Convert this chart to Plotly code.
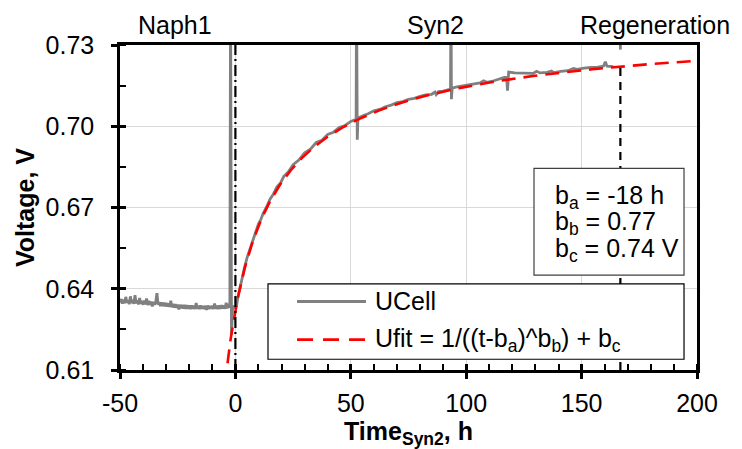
import numpy as np
import plotly.graph_objects as go

# ---- measured cell voltage before Syn2 start (0.5 h logging) ----
t_pre = [
    -50.0, -49.5, -49.0, -48.5, -48.0, -47.5, -47.0, -46.5, -46.0, -45.5,
    -45.0, -44.5, -44.0, -43.5, -43.0, -42.5, -42.0, -41.5, -41.0, -40.5,
    -40.0, -39.5, -39.0, -38.5, -38.0, -37.5, -37.0, -36.5, -36.0, -35.5,
    -35.0, -34.5, -34.0, -33.5, -33.0, -32.5, -32.0, -31.5, -31.0, -30.5,
    -30.0, -29.5, -29.0, -28.5, -28.0, -27.5, -27.0, -26.5, -26.0, -25.5,
    -25.0, -24.5, -24.0, -23.5, -23.0, -22.5, -22.0, -21.5, -21.0, -20.5,
    -20.0, -19.5, -19.0, -18.5, -18.0, -17.5, -17.0, -16.5, -16.0, -15.5,
    -15.0, -14.5, -14.0, -13.5, -13.0, -12.5, -12.0, -11.5, -11.0, -10.5,
    -10.0, -9.5, -9.0, -8.5, -8.0, -7.5, -7.0, -6.5, -6.0, -5.5,
    -5.0, -4.5, -4.0, -3.5, -3.0,
]
u_pre = [
    0.6349, 0.6362, 0.6345, 0.6360, 0.6346, 0.6370, 0.6348, 0.6358, 0.6343, 0.6372,
    0.6347, 0.6359, 0.6344, 0.6376, 0.6346, 0.6357, 0.6342, 0.6366, 0.6345, 0.6355,
    0.6341, 0.6356, 0.6343, 0.6364, 0.6340, 0.6355, 0.6341, 0.6353, 0.6335, 0.6352,
    0.6341, 0.6350, 0.6384, 0.6341, 0.6351, 0.6336, 0.6350, 0.6336, 0.6349, 0.6335,
    0.6348, 0.6334, 0.6346, 0.6333, 0.6356, 0.6332, 0.6344, 0.6331, 0.6343, 0.6330,
    0.6342, 0.6324, 0.6341, 0.6328, 0.6340, 0.6327, 0.6340, 0.6326, 0.6339, 0.6326,
    0.6338, 0.6325, 0.6338, 0.6326, 0.6337, 0.6325, 0.6347, 0.6326, 0.6337, 0.6325,
    0.6338, 0.6326, 0.6336, 0.6325, 0.6337, 0.6322, 0.6338, 0.6325, 0.6336, 0.6326,
    0.6337, 0.6325, 0.6345, 0.6326, 0.6337, 0.6325, 0.6338, 0.6326, 0.6339, 0.6327,
    0.6338, 0.6326, 0.6348, 0.6328, 0.6337,
]

# ---- measured cell voltage from Syn2 start onward ----
t_post = [
    -2.4, -2.1, -1.7, -1.2, -0.5, 0.0, 0.5, 1.0, 1.5, 2.0, 3.0, 4.0, 5.0, 6.0,
    7.0, 8.0, 9.0, 10.0, 11.0, 12.0, 13.5, 15.0, 16.5, 18.0, 19.5, 21.0, 23.0,
    25.0, 27.5, 30.0, 32.5, 35.0, 37.5, 40.0, 42.5, 45.0, 47.5, 50.0, 52.3, 52.5,
    52.8, 53.1, 55.0, 57.5, 60.0, 62.5, 65.0, 67.5, 70.0, 72.5, 75.0, 77.5, 80.0,
    82.5, 85.0, 86.5, 87.0, 88.0, 90.0, 93.2, 93.4, 93.6, 93.9, 96.0, 98.0, 100.0,
    103.0, 106.0, 107.5, 109.0, 112.0, 115.0, 117.5, 117.9, 118.4, 121.0, 124.0,
    127.0, 129.0, 130.5, 132.0, 135.0, 137.0, 138.0, 141.0, 144.0, 146.5, 148.0,
    151.0, 154.0, 157.0, 159.5, 160.3, 161.0, 163.8, None, 166.8, 166.8,
]
u_post = [
    0.6331, 0.7500, 0.6230, 0.6336, 0.6331, 0.6334, 0.6336, 0.6366, 0.6386, 0.6407,
    0.6446, 0.6480, 0.6513, 0.6540, 0.6566, 0.6592, 0.6614, 0.6640, 0.6655, 0.6678,
    0.6702, 0.6731, 0.6750, 0.6776, 0.6790, 0.6815, 0.6832, 0.6858, 0.6875, 0.6902,
    0.6915, 0.6940, 0.6948, 0.6970, 0.6978, 0.6995, 0.7003, 0.7018, 0.7026, 0.7500,
    0.6950, 0.7030, 0.7038, 0.7046, 0.7057, 0.7062, 0.7072, 0.7078, 0.7087, 0.7091,
    0.7099, 0.7103, 0.7110, 0.7116, 0.7118, 0.7126, 0.7117, 0.7128, 0.7130, 0.7137,
    0.7500, 0.7100, 0.7141, 0.7145, 0.7148, 0.7150, 0.7154, 0.7160, 0.7168, 0.7162,
    0.7168, 0.7176, 0.7183, 0.7131, 0.7200, 0.7197, 0.7196, 0.7197, 0.7195, 0.7203,
    0.7197, 0.7199, 0.7204, 0.7198, 0.7203, 0.7205, 0.7213, 0.7210, 0.7215, 0.7217,
    0.7218, 0.7222, 0.7238, 0.7222, 0.7220, None, 0.7283, 0.7400,
]

# ---- fit parameters ----
B_A = -18.0   # h
B_B = 0.77
B_C = 0.74    # V

# ---- event markers ----
T_SYN2 = 0.0
T_REGEN = 166.8
U_REGEN_TOP = 0.7227

x_ticks = [-50, 0, 50, 100, 150, 200]
x_ticktext = ["-50", "0", "50", "100", "150", "200"]
y_ticks = [0.61, 0.64, 0.67, 0.70, 0.73]
y_ticktext = ["0.61", "0.64", "0.67", "0.70", "0.73"]

top_labels = ["Naph1", "Syn2", "Regeneration"]
top_label_x = [-26, 86.7, 182]

FONT = "Arial, Liberation Sans, sans-serif"
FS = 25

t_cell = t_pre + t_post
u_cell = u_pre + u_post

t_fit = np.linspace(-4.6, 200, 600)
u_fit = B_C - 1.0 / (t_fit - B_A) ** B_B

fig = go.Figure()

fig.add_trace(go.Scatter(
    x=t_cell, y=u_cell, mode="lines", name="UCell",
    line=dict(color="#808080", width=2.8), showlegend=False,
))
fig.add_trace(go.Scatter(
    x=t_fit, y=u_fit, mode="lines", name="Ufit",
    line=dict(color="#ff0000", width=2.6, dash="14px,8px"), showlegend=False,
))
# Syn2 start (dash-dot) and regeneration (dashed) markers
fig.add_trace(go.Scatter(
    x=[T_SYN2, T_SYN2], y=[0.61, 0.73], mode="lines", showlegend=False,
    line=dict(color="black", width=2.2, dash="11px,4px,2px,4px"),
))
fig.add_trace(go.Scatter(
    x=[T_REGEN, T_REGEN], y=[0.61, U_REGEN_TOP], mode="lines", showlegend=False,
    line=dict(color="black", width=2.2, dash="8px,6px"),
))
# empty trace on the overlay axes so their inner tick marks render
fig.add_trace(go.Scatter(x=[None], y=[None], xaxis="x2", yaxis="y2",
                         showlegend=False, hoverinfo="skip"))

axis_common = dict(
    showline=True, linecolor="black", linewidth=2.5, mirror=True,
    showgrid=True, gridcolor="#d9d9d9", gridwidth=1, zeroline=False,
    ticks="outside", ticklen=6, tickwidth=2.5, tickcolor="black",
    tickfont=dict(family=FONT, size=FS, color="black"),
)

fig.update_layout(
    width=742, height=449,
    margin=dict(l=120, r=45, t=45, b=72),
    paper_bgcolor="white", plot_bgcolor="white",
    font=dict(family=FONT, size=FS, color="black"),
    xaxis=dict(
        **axis_common, range=[-50, 200], tickvals=x_ticks, ticktext=x_ticktext,
        minor=dict(ticks="inside", dtick=10, ticklen=6, tickwidth=2, tickcolor="black", showgrid=False),
        title=dict(text="<b>Time<sub>Syn2</sub>, h</b>", font=dict(family=FONT, size=FS), standoff=3),
        ticklabelstandoff=3,
    ),
    yaxis=dict(
        **axis_common, range=[0.61, 0.73], tickvals=y_ticks, ticktext=y_ticktext,
        minor=dict(ticks="inside", dtick=0.015, tick0=0.61, ticklen=6, tickwidth=2, tickcolor="black", showgrid=False),
        title=dict(text="<b>Voltage, V</b>", font=dict(family=FONT, size=FS), standoff=4),
        ticklabelstandoff=12,
    ),
    xaxis2=dict(overlaying="x", anchor="y", range=[-50, 200], tickvals=x_ticks,
                ticks="inside", ticklen=6, tickwidth=2.5, tickcolor="black",
                showticklabels=False, showgrid=False, showline=False, zeroline=False),
    yaxis2=dict(overlaying="y", anchor="x", range=[0.61, 0.73], tickvals=y_ticks,
                ticks="inside", ticklen=6, tickwidth=2.5, tickcolor="black",
                showticklabels=False, showgrid=False, showline=False, zeroline=False),
)

# event labels above the plot
for txt, xv in zip(top_labels, top_label_x):
    fig.add_annotation(x=xv, xref="x", y=1.0, yref="paper", yanchor="bottom",
                       yshift=4, text=txt, showarrow=False,
                       font=dict(family=FONT, size=FS, color="black"))

# fit-parameter box
fig.add_shape(type="rect", xref="paper", yref="paper", x0=0.7175, x1=0.9775,
              y0=0.292, y1=0.6205, line=dict(color="#404040", width=1.2),
              fillcolor="white", layer="above")
params = [f"b<sub>a</sub> = {B_A:.0f} h", f"b<sub>b</sub> = {B_B:.2f}", f"b<sub>c</sub> = {B_C:.2f} V"]
for txt, yv in zip(params, [0.533, 0.452, 0.370]):
    fig.add_annotation(x=0.7504, xref="paper", y=yv, yref="paper", xanchor="left",
                       yanchor="middle", text=txt, showarrow=False,
                       font=dict(family=FONT, size=FS, color="black"))

# legend box
fig.add_shape(type="rect", xref="paper", yref="paper", x0=0.2565, x1=0.9775,
              y0=0.0331, y1=0.265, line=dict(color="black", width=1.2),
              fillcolor="white", layer="above")
fig.add_shape(type="line", xref="paper", yref="paper", x0=0.3068, x1=0.4263,
              y0=0.2108, y1=0.2108, line=dict(color="#808080", width=2.8), layer="above")
fig.add_shape(type="line", xref="paper", yref="paper", x0=0.3068, x1=0.4263,
              y0=0.0934, y1=0.0934, line=dict(color="#ff0000", width=2.6, dash="16px,10px"),
              layer="above")
fig.add_annotation(x=0.4385, xref="paper", y=0.2108, yref="paper", xanchor="left",
                   yanchor="middle", text="UCell", showarrow=False,
                   font=dict(family=FONT, size=FS, color="black"))
fig.add_annotation(x=0.4385, xref="paper", y=0.0934, yref="paper", xanchor="left",
                   yanchor="middle",
                   text="Ufit = 1/((t-b<sub>a</sub>)^b<sub>b</sub>) + b<sub>c</sub>",
                   showarrow=False, font=dict(family=FONT, size=FS, color="black"))

fig.write_html("out.html")
